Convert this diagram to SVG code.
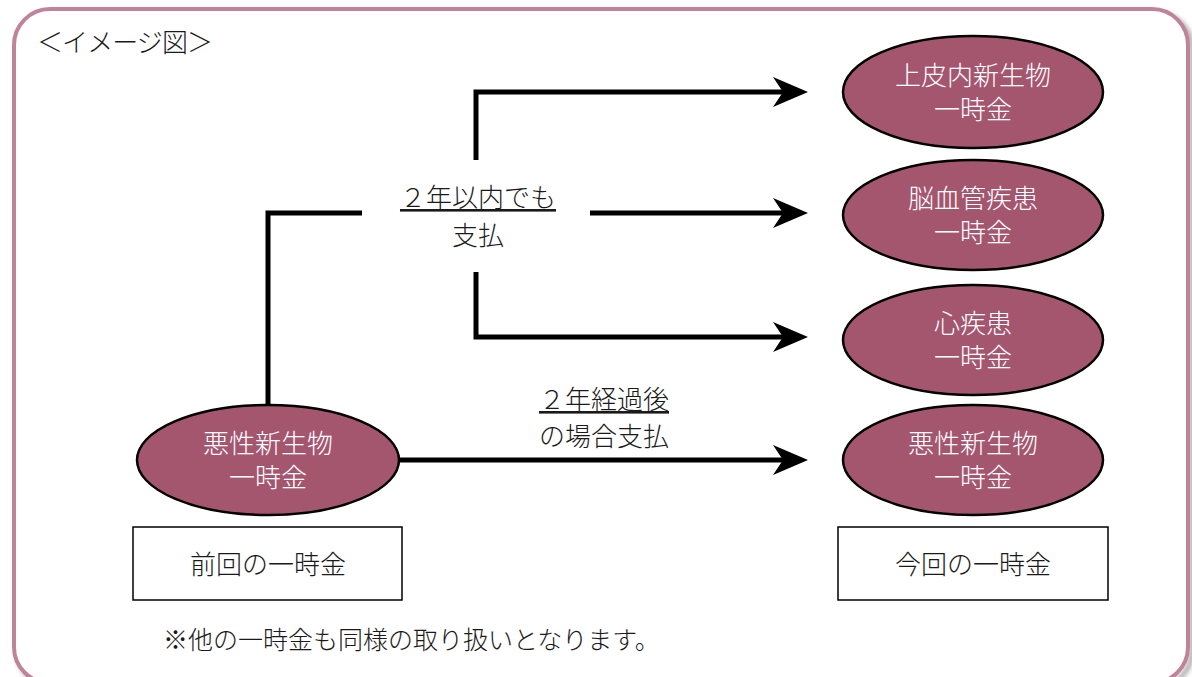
<svg xmlns="http://www.w3.org/2000/svg" width="1192" height="677" viewBox="0 0 1192 677">
  <defs>
    <marker id="arr" markerUnits="userSpaceOnUse" markerWidth="40" markerHeight="34" viewBox="0 -17 40 34" refX="22" refY="0" orient="auto">
      <path d="M0,-15 L35,0 L0,15 L10,0 Z" fill="#000"/>
    </marker>
    <filter id="blur" x="-5%" y="-5%" width="110%" height="110%">
      <feGaussianBlur stdDeviation="2"/>
    </filter>
  </defs>
  <style>
    .t { font-family: "Noto Sans CJK JP", "Noto Sans", sans-serif; font-size: 26px; font-weight: 300; fill: #1a1a1a; }
    .w { font-family: "Noto Sans CJK JP", "Noto Sans", sans-serif; font-size: 26px; font-weight: 300; fill: #fff; text-anchor: middle; }
    .c { text-anchor: middle; }
    .node { fill: #a4566f; stroke: #000; stroke-width: 2.5; }
    .box { fill: #fff; stroke: #000; stroke-width: 1.5; }
    .conn { fill: none; stroke: #000; stroke-width: 5; }
  </style>
  <rect x="0" y="0" width="1192" height="677" fill="#fff"/>
  <g id="frame">
    <rect x="18" y="13" width="1174" height="674" rx="36" ry="36" fill="none" stroke="#999" stroke-width="5" filter="url(#blur)" opacity="0.8"/>
    <rect x="14" y="9" width="1174" height="674" rx="36" ry="36" fill="#fff" stroke="#c0849a" stroke-width="4"/>
    <text class="t" x="37" y="52" textLength="176">＜イメージ図＞</text>
  </g>
  <g id="connectors">
    <path class="conn" d="M476,160 V92 H795" marker-end="url(#arr)"/>
    <path class="conn" d="M590,213 H795" marker-end="url(#arr)"/>
    <path class="conn" d="M476,272 V337 H795" marker-end="url(#arr)"/>
    <path class="conn" d="M268,405 V213 H362"/>
    <path class="conn" d="M398,460 H795" marker-end="url(#arr)"/>
    <g id="label-within">
      <text class="t c" x="478" y="207" text-decoration="underline">２年以内でも</text>
      <text class="t c" x="478" y="245">支払</text>
    </g>
    <g id="label-after">
      <text class="t c" x="604" y="409" text-decoration="underline">２年経過後</text>
      <text class="t c" x="604" y="446">の場合支払</text>
    </g>
  </g>
  <g id="node-prev">
    <ellipse class="node" cx="268" cy="460" rx="131" ry="55"/>
    <text class="w" x="268" y="453">悪性新生物</text>
    <text class="w" x="268" y="487">一時金</text>
  </g>
  <g id="node-intraepithelial">
    <ellipse class="node" cx="973" cy="92" rx="130" ry="56"/>
    <text class="w" x="973" y="85">上皮内新生物</text>
    <text class="w" x="973" y="119">一時金</text>
  </g>
  <g id="node-cerebro">
    <ellipse class="node" cx="973" cy="215" rx="130" ry="55"/>
    <text class="w" x="973" y="208">脳血管疾患</text>
    <text class="w" x="973" y="242">一時金</text>
  </g>
  <g id="node-heart">
    <ellipse class="node" cx="973" cy="340" rx="130" ry="55"/>
    <text class="w" x="973" y="333">心疾患</text>
    <text class="w" x="973" y="367">一時金</text>
  </g>
  <g id="node-cancer-now">
    <ellipse class="node" cx="973" cy="460" rx="130" ry="55"/>
    <text class="w" x="973" y="453">悪性新生物</text>
    <text class="w" x="973" y="487">一時金</text>
  </g>
  <g id="box-prev">
    <rect class="box" x="133" y="527" width="269" height="73"/>
    <text class="t c" x="268" y="574">前回の一時金</text>
  </g>
  <g id="box-now">
    <rect class="box" x="838" y="527" width="270" height="73"/>
    <text class="t c" x="973" y="574">今回の一時金</text>
  </g>
  <g id="note">
    <text class="t" x="163" y="649" style="font-size:25px">※他の一時金も同様の取り扱いとなります。</text>
  </g>
</svg>
